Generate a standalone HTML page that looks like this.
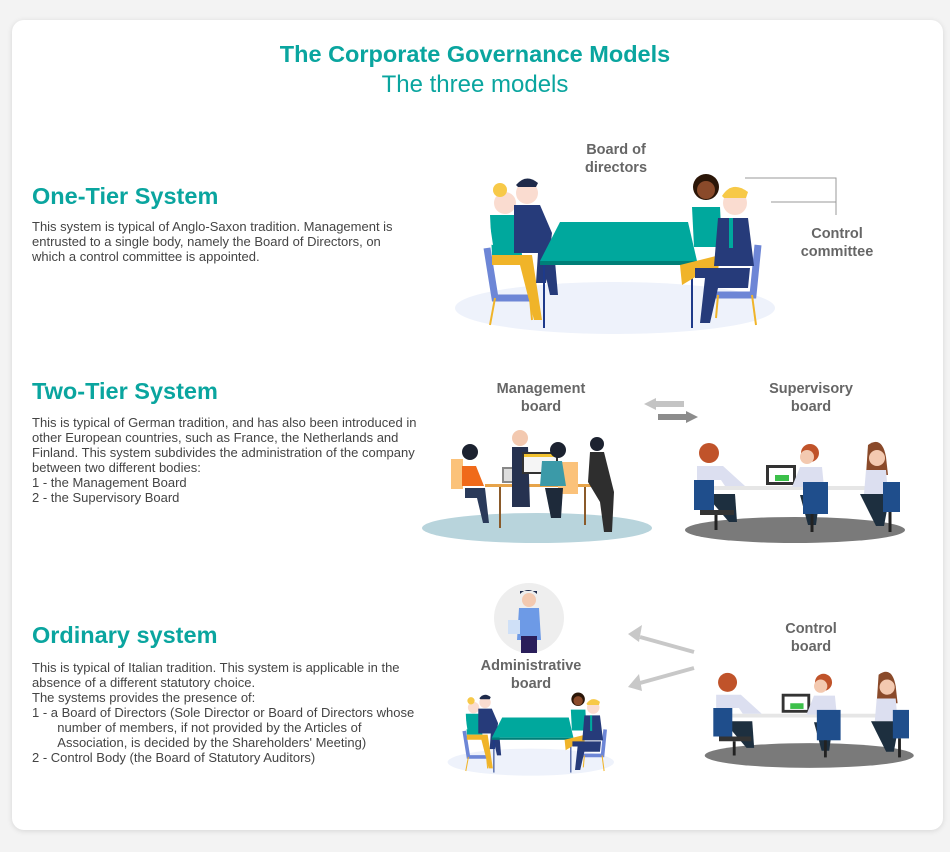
<!DOCTYPE html>
<html><head><meta charset="utf-8">
<style>
html,body{margin:0;padding:0;}
body{width:950px;height:852px;background:#f3f3f3;position:relative;overflow:hidden;font-family:"Liberation Sans",sans-serif;}
.card{position:absolute;left:12px;top:20px;width:931px;height:810px;background:#fff;border-radius:12px;box-shadow:0 1px 6px rgba(0,0,0,0.12);}
.t{position:absolute;white-space:nowrap;}
.title{left:0;width:950px;text-align:center;color:#0aa59f;}
h2{position:absolute;margin:0;left:32px;color:#0aa59f;font-size:23.5px;font-weight:bold;}
.p{position:absolute;left:32px;font-size:13px;line-height:15px;color:#444;white-space:nowrap;}
.lbl{position:absolute;color:#666;font-weight:bold;font-size:14.5px;line-height:18px;text-align:center;}
svg{position:absolute;left:0;top:0;}
</style></head><body>
<div class="card"></div>
<div class="t title" style="top:41px;font-weight:bold;font-size:23.5px;">The Corporate Governance Models</div>
<div class="t title" style="top:71px;font-size:24px;">The three models</div>

<h2 style="top:183px;">One-Tier System</h2>
<div class="p" style="top:219px;">This system is typical of Anglo-Saxon tradition. Management is<br>entrusted to a single body, namely the Board of Directors, on<br>which a control committee is appointed.</div>

<h2 style="top:378px;">Two-Tier System</h2>
<div class="p" style="top:415px;">This is typical of German tradition, and has also been introduced in<br>other European countries, such as France, the Netherlands and<br>Finland. This system subdivides the administration of the company<br>between two different bodies:<br>1 - the Management Board<br>2 - the Supervisory Board</div>

<h2 style="top:622px;">Ordinary system</h2>
<div class="p" style="top:660px;">This is typical of Italian tradition. This system is applicable in the<br>absence of a different statutory choice.<br>The systems provides the presence of:<br>1 - a Board of Directors (Sole Director or Board of Directors whose<br>&nbsp;&nbsp;&nbsp;&nbsp;&nbsp;&nbsp;&nbsp;number of members, if not provided by the Articles of<br>&nbsp;&nbsp;&nbsp;&nbsp;&nbsp;&nbsp;&nbsp;Association, is decided by the Shareholders' Meeting)<br>2 - Control Body (the Board of Statutory Auditors)</div>

<svg width="950" height="852" viewBox="0 0 950 852">
<defs>
<g id="meet">
  <ellipse cx="615" cy="308" rx="160" ry="26" fill="#eef2fb"/>
  <path d="M487 248 l8 50 h40" stroke="#6d86d6" stroke-width="7" fill="none"/>
  <line x1="495" y1="298" x2="490" y2="325" stroke="#f0b429" stroke-width="2"/>
  <line x1="530" y1="298" x2="532" y2="320" stroke="#f0b429" stroke-width="2"/>
  <circle cx="505" cy="203" r="11" fill="#fadcd0"/>
  <circle cx="500" cy="190" r="7" fill="#f7c948"/>
  <path d="M490 215 h28 l4 40 h-30z" fill="#00a89d"/>
  <path d="M489 218 l-6 25 l10 2z" fill="#fff"/>
  <path d="M492 255 h40 l10 65 h-8 l-14 -55 h-28z" fill="#f0b429"/>
  <circle cx="527" cy="193" r="11" fill="#fadcd0"/>
  <path d="M516 185 q10 -12 22 -2 l-2 4 h-18z" fill="#1e2a4a"/>
  <path d="M514 205 h26 l12 28 l-6 50 h-10 l2 -30 h-24z" fill="#263b7a"/>
  <path d="M540 250 l10 45 h8 l-4 -45z" fill="#263b7a"/>
  <path d="M560 222 L688 222 L697 261 L540 261 Z" fill="#00a89d"/>
  <rect x="540" y="261" width="157" height="4" fill="#007f78"/>
  <line x1="544" y1="265" x2="544" y2="328" stroke="#1e3a8a" stroke-width="2"/>
  <line x1="692" y1="265" x2="692" y2="328" stroke="#1e3a8a" stroke-width="2"/>
  <circle cx="706" cy="187" r="13" fill="#2b1608"/>
  <circle cx="706" cy="190" r="9" fill="#8a4a2a"/>
  <path d="M692 207 h28 l2 40 h-28z" fill="#00a89d"/>
  <path d="M680 265 l40 -10 l-5 40 h-8 l0 -25 l-25 15z" fill="#f0b429"/>
  <path d="M758 245 l-5 50 h-40" stroke="#6d86d6" stroke-width="7" fill="none"/>
  <line x1="752" y1="295" x2="756" y2="325" stroke="#f0b429" stroke-width="2"/>
  <line x1="718" y1="295" x2="716" y2="318" stroke="#f0b429" stroke-width="2"/>
  <circle cx="735" cy="203" r="12" fill="#fadcd0"/>
  <path d="M722 196 q10 -16 26 -4 l-2 6 h-22z" fill="#f7c948"/>
  <path d="M718 218 h30 l6 48 h-40z" fill="#263b7a"/>
  <rect x="729" y="218" width="4" height="30" fill="#00a89d"/>
  <path d="M695 268 h55 l-2 20 h-30 l-8 35 h-10 l5 -45 h-10z" fill="#263b7a"/>
</g>
<g id="sup">
  <ellipse cx="795" cy="530" rx="110" ry="13" fill="#7a7a7a"/>
  <rect x="712" y="486" width="185" height="4" fill="#e6e6e6"/>
  <rect x="766" y="465" width="30" height="20" fill="#333"/><rect x="769" y="468" width="24" height="14" fill="#fff"/>
  <rect x="775" y="475" width="14" height="6" fill="#3cc04a"/>
  <circle cx="709" cy="453" r="10" fill="#c0532a"/>
  <path d="M697 466 h26 l22 20 h-20 l-4 -6 h-24z" fill="#dcdff0"/>
  <path d="M705 494 h30 l2 28 h-8 z" fill="#1d2f3f"/>
  <rect x="694" y="480" width="20" height="30" fill="#1f4e8c"/>
  <rect x="700" y="510" width="34" height="5" fill="#333"/>
  <line x1="716" y1="515" x2="716" y2="530" stroke="#222" stroke-width="3"/>
  <circle cx="810" cy="453" r="9" fill="#c0532a"/><circle cx="807" cy="457" r="7" fill="#f3c9b0"/>
  <path d="M800 467 h22 l2 20 h-32z" fill="#dcdff0"/>
  <path d="M800 495 h20 l-4 30 h-8z" fill="#1d2f3f"/>
  <rect x="803" y="482" width="25" height="32" fill="#1f4e8c"/>
  <line x1="812" y1="514" x2="812" y2="532" stroke="#222" stroke-width="3"/>
  <path d="M868 445 q14 -10 18 12 l2 18 h-22z" fill="#8a4a2a"/>
  <circle cx="877" cy="458" r="8" fill="#f3c9b0"/>
  <path d="M866 470 h20 l2 24 h-24z" fill="#dcdff0"/>
  <path d="M860 494 h30 l-6 32 h-8z" fill="#1d2f3f"/>
  <rect x="883" y="482" width="17" height="30" fill="#1f4e8c"/>
  <line x1="890" y1="512" x2="890" y2="532" stroke="#222" stroke-width="3"/>
</g>
</defs>

<use href="#meet"/>
<use href="#meet" transform="translate(211,602) scale(0.52)"/>
<use href="#sup"/>
<use href="#sup" transform="translate(54,252) scale(0.95)"/>

<polyline points="745,178 836,178 836,215" fill="none" stroke="#999" stroke-width="1"/>
<line x1="771" y1="202" x2="836" y2="202" stroke="#999" stroke-width="1"/>

<ellipse cx="537" cy="528" rx="115" ry="15" fill="#b8d4dc"/>
<rect x="485" y="484" width="118" height="3" fill="#e7a44a"/>
<line x1="500" y1="487" x2="500" y2="528" stroke="#8a5a2a" stroke-width="2"/>
<line x1="585" y1="487" x2="585" y2="525" stroke="#8a5a2a" stroke-width="2"/>
<rect x="451" y="459" width="12" height="30" fill="#fbc27a"/>
<rect x="558" y="462" width="20" height="32" fill="#fbc27a"/>
<circle cx="470" cy="452" r="8" fill="#1c2230"/>
<path d="M462 466 h14 l8 20 h-22z" fill="#f06a1a"/>
<path d="M465 488 h20 l4 35 h-6 l-6 -25 h-12z" fill="#2a3a5a"/>
<rect x="502" y="467" width="22" height="16" fill="#888"/><rect x="504" y="469" width="18" height="12" fill="#ddd"/>
<circle cx="520" cy="438" r="8" fill="#f3c9b0"/>
<path d="M512 447 h16 l2 60 h-18z" fill="#263250"/>
<rect x="522" y="452" width="36" height="22" fill="#333"/><rect x="524" y="454" width="32" height="18" fill="#f5f5f5"/><rect x="524" y="454" width="32" height="3" fill="#f2c230"/>
<circle cx="558" cy="450" r="8" fill="#1c2230"/>
<path d="M542 461 h20 l4 25 h-26z" fill="#3b9aa8"/>
<path d="M545 488 h18 l-2 30 h-10z" fill="#1e2a3a"/>
<circle cx="597" cy="444" r="7" fill="#1c2230"/>
<path d="M590 452 h14 l10 40 l-2 40 h-8 l-4 -30 l-12 -20 z" fill="#2e2e2e"/>

<path d="M656 398 l-12 6 l12 6 v-3 h28 v-6 h-28z" fill="#c4c4c4"/>
<path d="M686 411 l12 6 l-12 6 v-3 h-28 v-6 h28z" fill="#8c8c8c"/>

<circle cx="529" cy="618" r="35" fill="#eeeeee"/>
<circle cx="529" cy="600" r="7" fill="#f3c9b0"/>
<path d="M520 594 q8 -8 17 0 v-3 h-17z" fill="#1e2a4a"/>
<path d="M519 608 h20 l2 32 h-24z" fill="#6d9ae6"/>
<rect x="508" y="620" width="12" height="14" fill="#cfe0f7"/>
<rect x="521" y="636" width="16" height="17" fill="#2a1e5a"/>

<line x1="694" y1="652" x2="640" y2="637" stroke="#c8c8c8" stroke-width="4"/>
<path d="M628 634 l14 -9 l-3 17z" fill="#c8c8c8"/>
<line x1="694" y1="668" x2="640" y2="683" stroke="#c8c8c8" stroke-width="4"/>
<path d="M628 687 l11 -13 l3 17z" fill="#c8c8c8"/>
</svg>

<div class="lbl" style="left:566px;top:141px;width:100px;">Board of<br>directors</div>
<div class="lbl" style="left:782px;top:225px;width:110px;">Control<br>committee</div>
<div class="lbl" style="left:476px;top:380px;width:130px;">Management<br>board</div>
<div class="lbl" style="left:756px;top:380px;width:110px;">Supervisory<br>board</div>
<div class="lbl" style="left:466px;top:657px;width:130px;">Administrative<br>board</div>
<div class="lbl" style="left:756px;top:620px;width:110px;">Control<br>board</div>
</body></html>
